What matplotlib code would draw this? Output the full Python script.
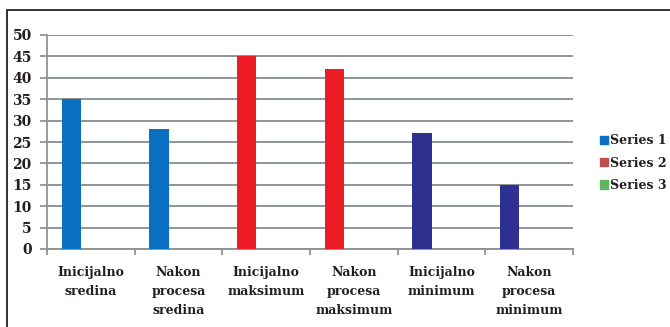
import matplotlib
matplotlib.use("Agg")
import matplotlib.pyplot as plt
from matplotlib.patches import Patch, Rectangle

categories = ["Inicijalno\nsredina", "Nakon\nprocesa\nsredina",
              "Inicijalno\nmaksimum", "Nakon\nprocesa\nmaksimum",
              "Inicijalno\nminimum", "Nakon\nprocesa\nminimum"]
values = [35, 28, 45, 42, 27, 15]
bar_colors = ["#0A6FBF", "#0A6FBF", "#EC1C24", "#EC1C24", "#2E3191", "#2E3191"]
legend_labels = ["Series 1", "Series 2", "Series 3"]
legend_colors = ["#0A6FBF", "#C0504D", "#5DB55D"]
yticks = list(range(0, 51, 5))

plt.rcParams["font.family"] = ["DejaVu Serif"]
plt.rcParams["font.weight"] = "bold"
text_color = "#231F20"
grid_color = "#8E9599"

fig = plt.figure(figsize=(6.70, 3.27), dpi=100)
ax = fig.add_axes([47 / 670, 78 / 327, 526 / 670, 214 / 327])

# frame around the whole chart (only top and left edges visible)
fig.patches.append(Rectangle((7 / 670, -0.1), 1.2, (317 / 327) + 0.1,
                             transform=fig.transFigure, fill=False,
                             edgecolor="#222222", linewidth=1.3))

x = list(range(len(categories)))
offset = -0.222
ax.bar([i + offset for i in x], values, width=0.222, color=bar_colors, zorder=3)

ax.set_xlim(-0.5, len(categories) - 0.5)
ax.set_ylim(0, 50)
ax.set_yticks(yticks)
ax.set_yticklabels([str(t) for t in yticks], fontsize=10, color=text_color,
                   fontweight="bold")
ax.yaxis.grid(True, color=grid_color, linewidth=1.4, zorder=0)
ax.set_axisbelow(True)

ax.set_xticks([i - 0.5 for i in range(len(categories) + 1)])
ax.set_xticklabels([])
ax.set_xticks(x, minor=True)
ax.set_xticklabels(categories, minor=True, fontsize=9, color=text_color,
                   fontweight="bold", linespacing=1.6, va="top")
ax.tick_params(axis="x", which="minor", length=0, pad=12)
ax.tick_params(axis="x", which="major", length=4, color=grid_color, width=1.3)
ax.tick_params(axis="y", length=5, color=grid_color, width=1.3, pad=6)

for side in ["top", "right"]:
    ax.spines[side].set_visible(False)
ax.spines["left"].set_color(grid_color)
ax.spines["left"].set_linewidth(1.3)
ax.spines["bottom"].set_color(grid_color)
ax.spines["bottom"].set_linewidth(1.4)

handles = [Patch(color=c, label=l) for c, l in zip(legend_colors, legend_labels)]
fig.legend(handles=handles, loc="center left", bbox_to_anchor=(589 / 670, 164 / 327),
           frameon=False, fontsize=9, handlelength=0.65, handleheight=0.65,
           handletextpad=0.15, labelspacing=0.75, labelcolor=text_color)

fig.savefig("out.png", dpi=100, facecolor="white")
